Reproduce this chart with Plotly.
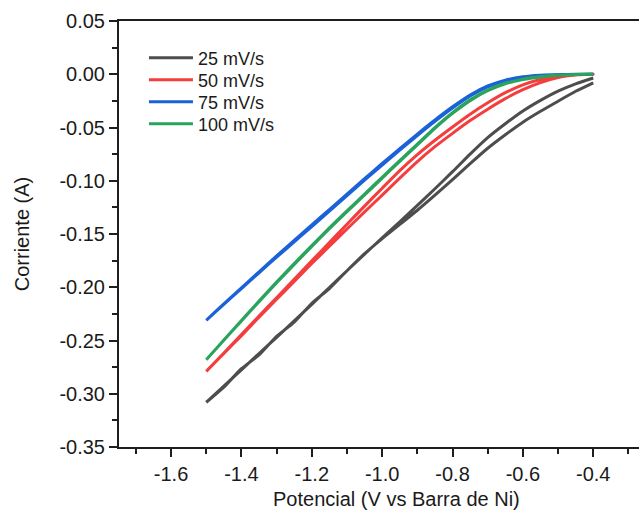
import plotly.graph_objects as go

# Potential grid (V vs Barra de Ni), cathodic sweep from -0.4 to -1.5
potential = [-0.40, -0.45, -0.50, -0.55, -0.60, -0.65, -0.70, -0.75, -0.80, -0.85,
             -0.90, -0.95, -1.00, -1.05, -1.10, -1.15, -1.20, -1.25, -1.30, -1.35,
             -1.40, -1.45, -1.50]

# Current (A): forward sweep and reverse sweep on the same potential grid
i25_fwd = [-0.0080, -0.0160, -0.0253, -0.0348, -0.0450, -0.0568, -0.0695, -0.0840, -0.0990, -0.1135,
           -0.1277, -0.1410, -0.1543, -0.1685, -0.1845, -0.2012, -0.2150, -0.2328, -0.2460, -0.2635,
           -0.2765, -0.2938, -0.3080]
i25_rev = [-0.0035, -0.0090, -0.0158, -0.0245, -0.0345, -0.0465, -0.0595, -0.0750, -0.0915, -0.1075,
           -0.1232, -0.1385, -0.1535, -0.1690, -0.1845, -0.2002, -0.2160, -0.2315, -0.2470, -0.2622,
           -0.2775, -0.2928, -0.3080]

i50_fwd = [0.0000, -0.0007, -0.0030, -0.0078, -0.0145, -0.0229, -0.0328, -0.0435, -0.0555, -0.0680,
           -0.0820, -0.0975, -0.1135, -0.1293, -0.1453, -0.1615, -0.1777, -0.1945, -0.2113, -0.2281,
           -0.2454, -0.2622, -0.2790]
i50_rev = [0.0000, -0.0004, -0.0018, -0.0050, -0.0100, -0.0173, -0.0268, -0.0375, -0.0495, -0.0620,
           -0.0755, -0.0905, -0.1070, -0.1238, -0.1408, -0.1580, -0.1752, -0.1925, -0.2098, -0.2271,
           -0.2444, -0.2617, -0.2790]

i75_fwd = [0.0000, -0.0001, -0.0004, -0.0011, -0.0028, -0.0061, -0.0118, -0.0205, -0.0318, -0.0443,
           -0.0576, -0.0712, -0.0852, -0.0994, -0.1140, -0.1285, -0.1430, -0.1574, -0.1718, -0.1864,
           -0.2012, -0.2160, -0.2310]
i75_rev = [0.0000, -0.0001, -0.0003, -0.0009, -0.0024, -0.0055, -0.0110, -0.0195, -0.0306, -0.0430,
           -0.0562, -0.0698, -0.0838, -0.0980, -0.1125, -0.1270, -0.1415, -0.1560, -0.1705, -0.1855,
           -0.2005, -0.2155, -0.2310]

i100_fwd = [0.0000, -0.0002, -0.0009, -0.0025, -0.0050, -0.0090, -0.0155, -0.0248, -0.0368, -0.0508,
            -0.0663, -0.0818, -0.0976, -0.1133, -0.1291, -0.1451, -0.1616, -0.1786, -0.1958, -0.2135,
            -0.2316, -0.2498, -0.2680]
i100_rev = [0.0000, -0.0002, -0.0008, -0.0022, -0.0046, -0.0085, -0.0148, -0.0240, -0.0360, -0.0500,
            -0.0655, -0.0810, -0.0968, -0.1125, -0.1283, -0.1443, -0.1608, -0.1778, -0.1952, -0.2130,
            -0.2312, -0.2495, -0.2680]

series_names = ["25 mV/s", "50 mV/s", "75 mV/s", "100 mV/s"]
series_colors = ["#4d4d4d", "#f43d3d", "#1b62d8", "#2aa45c"]
series_fwd = [i25_fwd, i50_fwd, i75_fwd, i100_fwd]
series_rev = [i25_rev, i50_rev, i75_rev, i100_rev]

x_tickvals = [-1.6, -1.4, -1.2, -1.0, -0.8, -0.6, -0.4]
x_ticktext = ["-1.6", "-1.4", "-1.2", "-1.0", "-0.8", "-0.6", "-0.4"]
y_tickvals = [0.05, 0.00, -0.05, -0.10, -0.15, -0.20, -0.25, -0.30, -0.35]
y_ticktext = ["0.05", "0.00", "-0.05", "-0.10", "-0.15", "-0.20", "-0.25", "-0.30", "-0.35"]

FONT = "Arial, 'Liberation Sans', sans-serif"
AX = "#1e1e1e"
TXT = "#1a1a1a"

legend_ids = ["legend", "legend2", "legend3", "legend4"]
legend_rows_y = [0.9131, 0.8615, 0.8099, 0.7582]

fig = go.Figure()
for name, color, fwd, rev, lid in zip(series_names, series_colors, series_fwd, series_rev, legend_ids):
    xs = potential + potential[::-1]
    ys = fwd + rev[::-1]
    fig.add_trace(go.Scatter(
        x=xs, y=ys, mode="lines", name=name, legend=lid,
        line=dict(color=color, width=3, shape="spline", smoothing=0.6),
    ))

legend_common = dict(
    x=0.048, xanchor="left", yanchor="middle",
    bgcolor="rgba(0,0,0,0)", borderwidth=0,
    font=dict(family=FONT, size=18, color=TXT),
    itemwidth=44,
)
layout_legends = {}
for lid, yy in zip(legend_ids, legend_rows_y):
    layout_legends[lid] = dict(legend_common, y=yy)

fig.update_layout(
    width=639, height=518,
    margin=dict(l=119, r=0, t=21, b=71),
    paper_bgcolor="white", plot_bgcolor="white",
    font=dict(family=FONT, color=TXT),
    showlegend=True,
    xaxis=dict(
        range=[-1.748, -0.27], showgrid=False, zeroline=False,
        showline=True, linecolor=AX, linewidth=2, mirror=True,
        ticks="outside", ticklen=8, tickwidth=2, tickcolor=AX,
        tickmode="array", tickvals=x_tickvals, ticktext=x_ticktext,
        tickfont=dict(family=FONT, size=20, color=TXT),
        minor=dict(ticks="outside", ticklen=5, tickwidth=2, tickcolor=AX,
                   tickmode="linear", tick0=-1.7, dtick=0.2),
    ),
    yaxis=dict(
        range=[-0.35, 0.05], showgrid=False, zeroline=False,
        showline=True, linecolor=AX, linewidth=2, mirror=False,
        ticks="outside", ticklen=8, tickwidth=2, tickcolor=AX,
        tickmode="array", tickvals=y_tickvals, ticktext=y_ticktext,
        tickfont=dict(family=FONT, size=20, color=TXT),
        minor=dict(ticks="outside", ticklen=5, tickwidth=2, tickcolor=AX,
                   tickmode="linear", tick0=0.025, dtick=0.05),
        title=dict(text="Corriente (A)", standoff=24,
                   font=dict(family=FONT, size=20, color=TXT)),
    ),
    annotations=[dict(
        text="Potencial (V vs Barra de Ni)", xref="paper", yref="paper",
        x=0.5346, y=-0.123, xanchor="center", yanchor="middle",
        showarrow=False, font=dict(family=FONT, size=20, color=TXT),
    )],
    **layout_legends,
)

fig.write_html("out.html")
